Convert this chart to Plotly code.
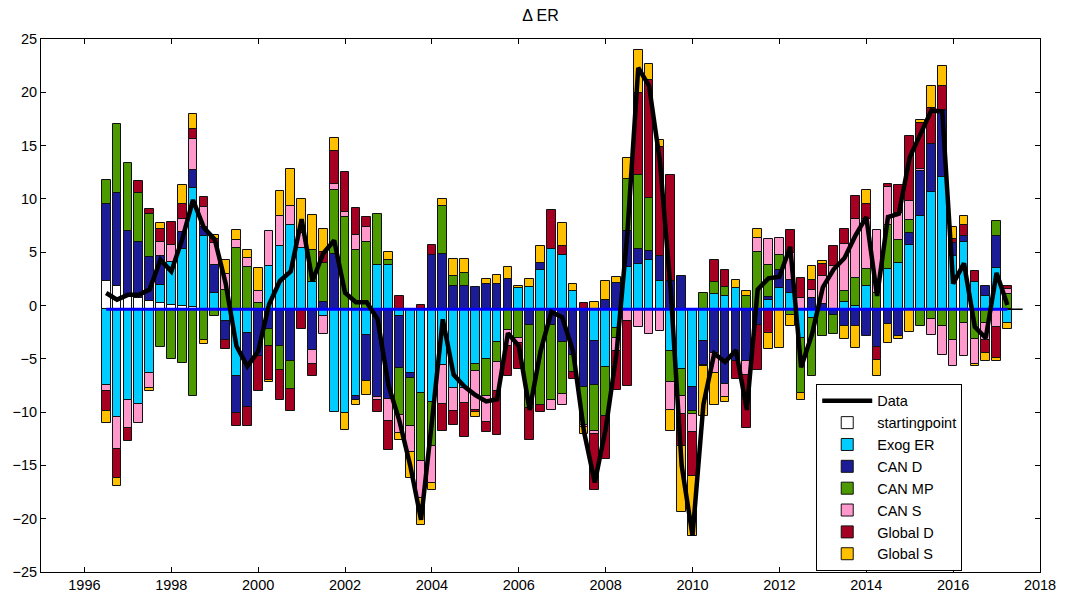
import plotly.graph_objects as go

# ---------------- data ----------------
QUARTER_START = 1996.5
N_QUARTERS = 84
dates = [QUARTER_START + 0.25 * k for k in range(N_QUARTERS)]

BASELINE = -0.35

startingpoint = [2.62, 2.15, 1.21, 1.05, 0.81, 0.59, 0.43, 0.35, 0.2, 0,
                 0, 0, 0, 0, 0, 0, 0, 0, 0, 0,
                 0, 0, 0, 0, 0, 0, 0, 0, 0, 0,
                 0, 0, 0, 0, 0, 0, 0, 0, 0, 0,
                 0, 0, 0, 0, 0, 0, 0, 0, 0, 0,
                 0, 0, 0, 0, 0, 0, 0, 0, 0, 0,
                 0, 0, 0, 0, 0, 0, 0, 0, 0, 0,
                 0, 0, 0, 0, 0, 0, 0, 0, 0, 0,
                 0, 0, 0, 0]

exog_er = [-7.07, -10.15, -8.48, -8.85, -5.95, 1.72, 4.0, 5.33, 11.15, 6.84,
           1.53, -1.13, -6.29, -2.25, 0, 4.02, 5.9, 7.93, 5.74, 2.55,
           -0.65, -9.65, -9.75, -8.18, -2.4, 4.12, 4.12, -0.68, -5.99, -7.85,
           -8.73, -5.2, -7.39, -7.39, -5.11, -4.67, -3.11, 0, 1.98, 2.08,
           3.64, 5.67, 5.11, 1.67, 0, -3.0, -5.44, -1.75, 3.94, 4.25,
           4.65, 2.62, -3.94, -5.57, -7.28, -3.0, 1.44, 1.22, 2.0, 0,
           0, 0.9, 1.99, 1.53, -2.7, -0.82, 0, 0, 0.65, 0.27,
           2.15, 0, 3.78, 4.34, 6.06, 8.78, 10.99, 12.4, 4.96, 6.28,
           2.53, 1.21, 3.87, -1.29]

can_d = [7.28, 8.75, 6.1, 5.3, 4.06, 2.72, 0, 1.53, 1.7, 0.87,
         2.59, -1.72, -3.46, -6.9, -4.42, -1.85, -3.42, -4.89, 0, -3.79,
         0.65, 5.18, 0, -0.31, -4.35, -8.25, -8.42, -4.84, -0.47, 0,
         5.11, 5.2, 2.2, 2.14, 2.08, 2.39, 2.39, 2.83, 0, -1.52,
         0.69, -1.52, -3.08, -4.27, -7.25, -4.13, 0.84, 2.47, 3.37, 1.43,
         0.85, 2.41, 2.69, 3.09, -2.27, -2.19, -4.1, -7.05, -4.88, -4.88,
         -1.45, 0.25, 1.66, 1.25, 0, 1.05, 0.53, -0.51, -1.6, -1.6,
         -2.54, -3.54, -1.38, -2.55, 1.09, 4.15, 4.54, 6.31, 1.25, 0.62,
         0, 0.94, 2.97, 0]

can_mp = [2.25, 6.5, 6.44, 4.6, 4.06, -3.55, -4.65, -5.04, -8.15, -2.85,
          -0.6, 1.78, 5.75, 3.96, 0.58, -1.63, -2.31, -2.59, 0, 3.03,
          3.7, 5.97, 8.61, 5.52, 6.3, 4.81, 0.53, -4.38, -4.53, -6.35,
          -4.12, 4.53, 0.88, 1.25, -0.72, -3.5, -1.88, -1.92, -2.7, -7.75,
          -8.95, -7.03, -4.87, -1.65, -3.6, -4.32, -4.61, -0.94, 4.91, 6.94,
          4.93, 0, -2.87, -2.58, -0.3, 1.53, 1.09, 0.84, 0, 1.21,
          5.34, 3.03, 1.47, -0.5, -5.15, -5.41, -2.54, -1.78, 1.1, 2.66,
          1.63, 1.53, 4.15, 2.19, 1.19, -1.6, -0.91, -1.6, -2.93, -1.31,
          -2.79, -1.31, 1.47, 1.46]

can_s = [-0.62, -3.0, -2.67, -1.8, -1.43, 1.25, 1.56, 1.28, 2.9, 1.84,
         2.09, 1.57, 0.7, 0.85, 1.1, 3.28, 2.81, 1.78, 1.41, -1.36,
         -1.7, 0.62, 0.47, 1.47, 1.38, -0.3, -2.03, -1.72, -2.36, -3.5,
         -3.44, -3.66, -2.19, -1.41, -3.59, -2.44, -2.71, -1.57, -0.47, 0,
         0, -0.94, -1.0, 0, -0.2, -0.3, 0, -1.19, -1.13, -1.69,
         -2.32, -2.07, -2.6, -1.7, -1.7, -0.15, -1.85, -1.2, 0, -1.25,
         1.34, 2.41, 1.56, 2.5, 1.05, 0.79, 2.56, 4.03, 4.4, 5.53,
         4.68, 5.87, 3.5, 2.5, 1.78, 0.25, -1.5, -2.65, -2.44, -3.12,
         -2.31, -1.56, -1.62, 0.44]

global_d = [-1.88, -2.7, -1.23, 1.1, 0.5, 1.28, 2.16, 1.38, 1.0, 1.0,
            0.41, -0.88, -1.2, -1.8, -3.28, -3.13, -2.75, -2.03, -1.85, -1.08,
            1.0, 3.03, 3.77, 2.5, 0.97, -1.1, -2.8, 1.26, 0, 0.42,
            0.87, -2.59, -1.31, -3.22, -0.22, -0.91, -4.07, -2.81, -2.44, -2.97,
            -0.69, 3.6, 0.78, -0.63, 0.59, -5.2, -4.0, -3.67, -6.09, 7.66,
            11.1, 10.16, 9.93, -3.0, -4.1, 0, 2.12, 1.59, -1.67, -5.0,
            -4.27, -2.23, 0, 2.12, 1.88, 0.94, 1.19, 1.87, 1.38, 2.13,
            1.44, -1.18, 0.34, 2.65, 6.16, 4.28, 3.34, 2.25, 0.38, 1.03,
            1.09, -1.19, -2.97, 0.31]

global_s = [-1.08, -0.75, 0, 0, -0.25, 0.53, 0, 1.75, 1.4, -0.4,
            0.37, 1.24, 1.01, 0.72, 2.17, -0.21, 2.4, 3.44, 3.18, 3.27,
            2.17, 1.25, -1.55, -0.46, -1.27, 0, 0.68, -0.63, -2.5, -2.5,
            -0.69, 0.63, 1.65, 1.34, -0.47, 0.47, 0.84, 1.12, 0.22, 0.78,
            1.56, 0, 2.19, 0.69, -0.7, 0.69, 1.78, 0.56, 1.97, 4.06,
            1.47, 0.71, -2.04, -6.2, -5.6, -4.7, -3.0, -0.44, 0.78, 0.48,
            0.85, -1.49, -3.65, -1.1, -0.63, 1.25, 0.21, 0, -1.19, -2.03,
            1.25, -1.51, -1.78, -0.24, -2.16, 0.32, 2.09, 1.82, 1.12, 0.78,
            -0.19, -0.84, -0.31, -0.56]

data_line = [1.17, 0.55, 1.0, 1.0, 1.5, 4.3, 3.2, 6.2, 9.9, 7.3,
             6.2, 2.1, -3.8, -5.7, -4.3, 0.1, 2.3, 3.2, 8.1, 2.3,
             4.9, 6.1, 1.2, 0.3, 0.3, -1.3, -7.5, -10.8, -15.0, -20.1,
             -10.9, -1.3, -6.5, -7.6, -8.4, -9.0, -8.8, -2.6, -3.8, -9.8,
             -4.3, -0.6, -1.1, -4.3, -11.8, -16.6, -11.6, -4.5, 6.8, 22.3,
             20.6, 13.5, 1.3, -15.0, -21.6, -9.3, -4.5, -5.3, -4.2, -9.8,
             1.5, 2.55, 2.7, 5.5, -5.8, -2.7, 1.7, 3.4, 4.45, 6.55,
             8.3, 0.9, 8.3, 8.6, 13.9, 16.1, 18.3, 18.2, 2.05, 3.95,
             -2.0, -3.05, 3.05, 0.05]

series_names = ["startingpoint", "Exog ER", "CAN D", "CAN MP", "CAN S", "Global D", "Global S"]
series_values = [startingpoint, exog_er, can_d, can_mp, can_s, global_d, global_s]
series_colors = ["#FFFFFF", "#00CCFF", "#1C1C96", "#4C9900", "#FF99CC", "#A50021", "#FFC000"]

x_ticks = [1996, 1998, 2000, 2002, 2004, 2006, 2008, 2010, 2012, 2014, 2016, 2018]
y_ticks = [-25, -20, -15, -10, -5, 0, 5, 10, 15, 20, 25]

# ---------------- figure ----------------
FONT = "Liberation Sans, Arial, Helvetica, sans-serif"
fig = go.Figure()

pos_cum = [BASELINE] * N_QUARTERS
neg_cum = [BASELINE] * N_QUARTERS
for rank, (name, vals, col) in enumerate(zip(series_names, series_values, series_colors)):
    bases, heights = [], []
    for i, v in enumerate(vals):
        if v == 0:
            bases.append(None)
            heights.append(None)
        elif v > 0:
            bases.append(pos_cum[i])
            heights.append(v)
            pos_cum[i] += v
        else:
            bases.append(neg_cum[i])
            heights.append(v)
            neg_cum[i] += v
    fig.add_trace(go.Bar(
        x=dates, y=heights, base=bases, width=0.2, name=name,
        marker=dict(color=col, line=dict(color="#111111", width=1)),
        legendrank=rank + 2,
    ))

# baseline
fig.add_trace(go.Scatter(
    x=[dates[0], dates[-1]], y=[BASELINE, BASELINE], mode="lines",
    line=dict(color="#0000FF", width=3), showlegend=False, hoverinfo="skip",
))
fig.add_trace(go.Scatter(
    x=[dates[-1], dates[-1] + 0.35], y=[BASELINE, BASELINE], mode="lines",
    line=dict(color="black", width=1.5), showlegend=False, hoverinfo="skip",
))

fig.add_trace(go.Scatter(
    x=dates, y=data_line, mode="lines", name="Data",
    line=dict(color="black", width=4.5), legendrank=1,
))

axis_common = dict(
    showline=True, linecolor="black", linewidth=1, mirror="ticks",
    ticks="inside", ticklen=5, tickcolor="black", tickwidth=1,
    showgrid=False, zeroline=False, automargin=False,
    tickfont=dict(family=FONT, size=14.5, color="black"),
)

fig.update_layout(
    width=1065, height=598,
    margin=dict(l=41, r=25, t=39, b=26, autoexpand=False),
    paper_bgcolor="white", plot_bgcolor="white",
    barmode="overlay",
    bargap=0,
    title=dict(text="Δ ER", x=0.5, xref="paper", xanchor="center", y=0.975, yanchor="middle",
               yref="container", font=dict(family=FONT, size=16, color="black")),
    xaxis=dict(range=[1995, 2018], tickvals=x_ticks, **axis_common),
    yaxis=dict(range=[-25, 25], tickvals=y_ticks, **axis_common),
    legend=dict(
        x=0.776, y=0.353, xanchor="left", yanchor="top",
        bgcolor="white", bordercolor="black", borderwidth=1,
        font=dict(family=FONT, size=14.5, color="black"),
        itemwidth=50, tracegroupgap=0,
    ),
    showlegend=True,
)

fig.write_html(
    "out.html",
    config={"displayModeBar": False},
    post_script="document.body.style.margin='0px';document.body.style.overflow='hidden';",
)
